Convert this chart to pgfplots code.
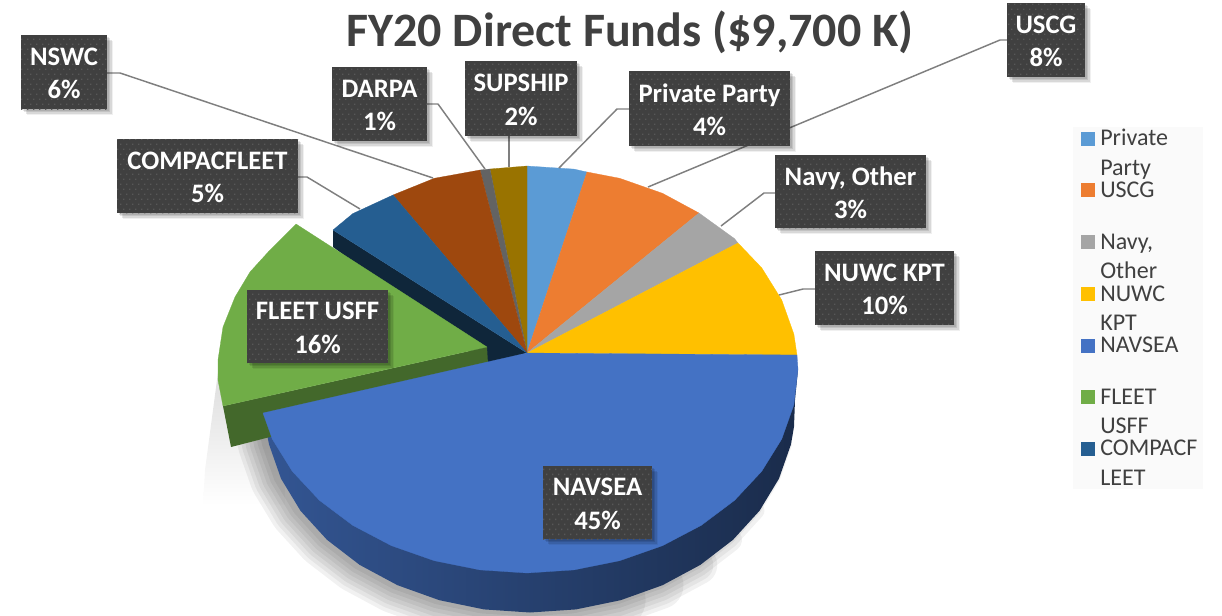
\documentclass[border=0pt]{standalone}
\usepackage{pgfplots}
\pgfplotsset{compat=1.18}
\usepackage{pgfplotstable}
\usepackage{fontspec}
\setmainfont{Carlito}
\usetikzlibrary{patterns,shadows,calc}
\definecolor{cPriv}{HTML}{5B9BD5}
\definecolor{cUSCG}{HTML}{ED7D31}
\definecolor{cNavy}{HTML}{A5A5A5}
\definecolor{cNUWC}{HTML}{FFC000}
\definecolor{cNAVSEA}{HTML}{4472C4}
\definecolor{cFLEET}{HTML}{70AD47}
\definecolor{cCOMPAC}{HTML}{255E91}
\definecolor{cNSWC}{HTML}{9E480E}
\definecolor{cDARPA}{HTML}{636363}
\definecolor{cSUP}{HTML}{997300}
\definecolor{cBox}{HTML}{404040}
\definecolor{cDot}{HTML}{585858}
\definecolor{cLead}{HTML}{7F7F7F}
\pgfdeclarepatternformonly{lbldots}{\pgfqpoint{-1pt}{-1pt}}{\pgfqpoint{4.5pt}{7.5pt}}{\pgfqpoint{4.5pt}{7.5pt}}{%
  \pgfpathrectangle{\pgfqpoint{0pt}{0pt}}{\pgfqpoint{1.1pt}{1.1pt}}%
  \pgfpathrectangle{\pgfqpoint{2.25pt}{3.75pt}}{\pgfqpoint{1.1pt}{1.1pt}}%
  \pgfusepath{fill}}
\pgfplotstableread{
x y
263 413
269 444.3
281 478.6
300.5 510.8
327 539.8
359.7 564.9
397.5 585.2
439.4 600.2
484 609.4
530 612.5
576 609.4
620.6 600.2
662.5 585.2
700.3 564.9
733 539.8
759.5 510.8
779 478.6
791 444.3
794 426.7
}\botarc
\tikzset{lblbox/.style={
  general shadow={fill=black,opacity=.10,shadow xshift=1.5pt,shadow yshift=-1.5pt},
  general shadow={fill=black,opacity=.10,shadow xshift=2.5pt,shadow yshift=-2.5pt},
  general shadow={fill=black,opacity=.10,shadow xshift=3.5pt,shadow yshift=-3.5pt},
  general shadow={fill=black,opacity=.06,shadow xshift=4.5pt,shadow yshift=-4.5pt},
  preaction={fill=cBox},pattern=lbldots,pattern color=cDot}}
\newcommand{\lab}[6]{%
  \path[lblbox] (axis cs:#1,#2) rectangle (axis cs:#3,#4);
  \node[align=center,text=white,inner sep=0pt,yshift=-1pt,font=\fontsize{20}{25}\selectfont\bfseries]
    at ($(axis cs:#1,#2)!.5!(axis cs:#3,#4)$) {#5\\#6};}
\newcommand{\leg}[2]{\node[anchor=base west,inner sep=0pt,text=cBox,font=\fontsize{18}{20}\selectfont] at (axis cs:1100,#1) {#2};}
\newcommand{\shad}[2]{\addplot[draw=black,opacity=.055,line width=#1pt,line cap=round,restrict x to domain=0:#2] table[x expr=\thisrow{x}-3,y=y] {\botarc};}
\newcommand{\legsq}[2]{\addplot[fill=#1,draw=none] coordinates {(1081,#2-7)(1095,#2-7)(1095,#2+7)(1081,#2+7)} -- cycle;}
\begin{document}
\begin{tikzpicture}
\begin{axis}[scale only axis,width=916.5pt,height=461.25pt,
  xmin=0,xmax=1222,ymin=0,ymax=615,y dir=reverse,axis lines=none,mark=none,
  every axis plot/.append style={forget plot,line join=round}]
% soft shadow
\addplot[draw=none,shade,top color=black!14,middle color=black!20,bottom color=white] coordinates {(219,365)(205,470)(203,505)(285,505)(285,430)(224,405)} -- cycle;
\shad{6}{790}
\shad{12}{770}
\shad{18}{750}
\shad{24}{725}
\shad{30}{700}
\shad{36}{665}
\shad{42}{625}
% NAVSEA side
\addplot[draw=none,shade,left color=cNAVSEA!75!black,middle color=cNAVSEA!40!black,right color=cNAVSEA!38!black] coordinates {
(263,413)(269,444.3)(281,478.6)(300.5,510.8)(327,539.8)(359.7,564.9)(397.5,585.2)(439.4,600.2)(484,609.4)(530,612.5)(576,609.4)(620.6,600.2)(662.5,585.2)(700.3,564.9)(733,539.8)(759.5,510.8)(779,478.6)(791,444.3)(794,426.7)(795,400)(798,369.5)(527,400)} -- cycle;
% COMPACFLEET side
\addplot[fill=cCOMPAC!40!black,draw=none] coordinates {(333,230)(333,247)(488,364)(527,353)} -- cycle;
% top faces
\addplot[fill=cPriv,draw=cPriv,line width=.2pt] coordinates {(527,353)(527,166)(574,169.1)(587,172)} -- cycle;
\addplot[fill=cUSCG,draw=cUSCG,line width=.2pt] coordinates {(527,353)(587,172)(619.7,178.3)(662.5,193.3)(699,213)} -- cycle;
\addplot[fill=cNavy,draw=cNavy,line width=.2pt] coordinates {(527,353)(699,213)(734.6,238.7)(738,243)} -- cycle;
\addplot[fill=cNUWC,draw=cNUWC,line width=.2pt] coordinates {(527,353)(738,243)(761.7,267.8)(781.7,299.9)(793.9,334.2)(797,355)} -- cycle;
\addplot[fill=cSUP,draw=cSUP,line width=.2pt] coordinates {(527,353)(527,166)(490,169)} -- cycle;
\addplot[fill=cDARPA,draw=cDARPA,line width=.2pt] coordinates {(527,353)(490,169)(480,170)} -- cycle;
\addplot[fill=cNSWC,draw=cNSWC,line width=.2pt] coordinates {(527,353)(480,170)(434.3,178.3)(393,195)} -- cycle;
\addplot[fill=cCOMPAC,draw=cCOMPAC,line width=.2pt] coordinates {(527,353)(393,195)(352.8,213.6)(333,230)} -- cycle;
% FLEET exploded
\addplot[fill=cFLEET!60!black,draw=none] coordinates {(223,406)(231,447)(270,437)(488,364)(487,347)} -- cycle;
\addplot[fill=cFLEET,draw=cFLEET,line width=.2pt] coordinates {(487,347)(296,224)(270,250)(250,272)(235,297)(223,327)(218,360)(218,380)(223,406)} -- cycle;
% NAVSEA top
\addplot[fill=cNAVSEA,draw=cNAVSEA,line width=.2pt] coordinates {(527,353)(797,355)(798,369.5)(793.9,404.8)(781.7,439.1)(761.7,471.3)(734.6,500.3)(701.2,525.4)(662.5,545.7)(619.7,560.7)(574,569.9)(527,573)(480,569.9)(434.3,560.7)(391.5,545.7)(352.8,525.4)(319.4,500.3)(292.3,471.3)(272.3,439.1)(263,413)} -- cycle;
% leader lines
\addplot[draw=cLead,line width=1.1pt] coordinates {(107,73)(120,73)(433,178)};
\addplot[draw=cLead,line width=1.1pt] coordinates {(298,177)(307,177)(360,209)};
\addplot[draw=cLead,line width=1.1pt] coordinates {(427,104)(438,104)(485,169)};
\addplot[draw=cLead,line width=1.1pt] coordinates {(509,136)(509,167)};
\addplot[draw=cLead,line width=1.1pt] coordinates {(629,109)(617,109)(559,168)};
\addplot[draw=cLead,line width=1.1pt] coordinates {(1007,40)(1000,40)(648,187)};
\addplot[draw=cLead,line width=1.1pt] coordinates {(775,193)(764,193)(721,226)};
\addplot[draw=cLead,line width=1.1pt] coordinates {(815,289)(803,289)(779,295)};
% title
\node[text=cBox,inner sep=0pt,font=\fontsize{36}{40}\selectfont\bfseries] at (axis cs:630,32) {FY20 Direct Funds (\$9,700 K)};
% labels
\lab{21}{35}{107}{109}{NSWC}{6\%}
\lab{117}{139}{298}{213}{COMPACFLEET}{5\%}
\lab{332}{67}{427}{141}{DARPA}{1\%}
\lab{465}{61}{577}{136}{SUPSHIP}{2\%}
\lab{629}{71}{790}{146}{Private Party}{4\%}
\lab{1007}{3}{1085}{77}{USCG}{8\%}
\lab{775}{155}{926}{228}{Navy, Other}{3\%}
\lab{815}{251}{954}{325}{NUWC KPT}{10\%}
\lab{247}{290}{388}{363}{FLEET USFF}{16\%}
\lab{543}{466}{652}{539}{NAVSEA}{45\%}
% legend
\fill[black!2] (axis cs:1073,127) rectangle (axis cs:1203,489);
\legsq{cPriv}{139}
\legsq{cUSCG}{190}
\legsq{cNavy}{242}
\legsq{cNUWC}{294}
\legsq{cNAVSEA}{346}
\legsq{cFLEET}{397}
\legsq{cCOMPAC}{449}
\leg{145}{Private}
\leg{175}{Party}
\leg{197}{USCG}
\leg{249}{Navy,}
\leg{278}{Other}
\leg{301}{NUWC}
\leg{330}{KPT}
\leg{352}{NAVSEA}
\leg{404}{FLEET}
\leg{433}{USFF}
\leg{455}{COMPACF}
\leg{485}{LEET}
\end{axis}
\path (0,0) rectangle (916.5pt,461.25pt);
\end{tikzpicture}
\end{document}
